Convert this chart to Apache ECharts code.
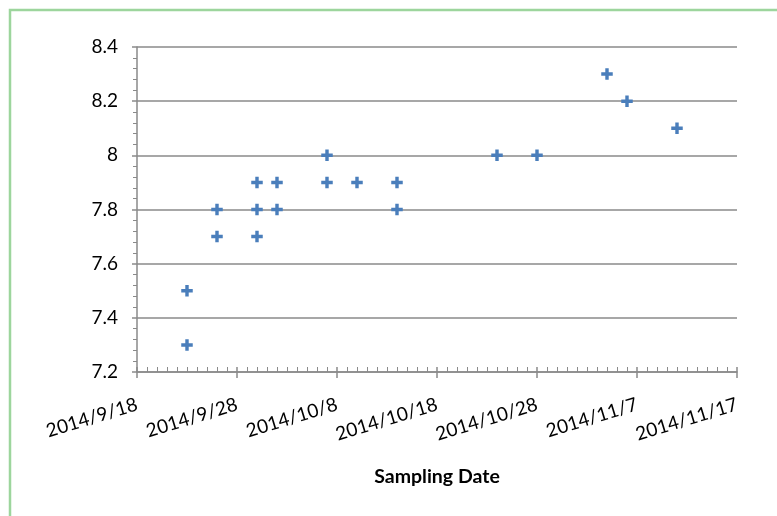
<!DOCTYPE html>
<html>
<head>
<meta charset="utf-8">
<style>
  html, body { margin: 0; padding: 0; background: #ffffff; }
  #chart { width: 777px; height: 516px; }
</style>
<script src="https://cdn.jsdelivr.net/npm/echarts@6/dist/echarts.min.js"></script>
</head>
<body>
<div id="chart"></div>
<script>
// Sampling dates and measured values (one entry per sample)
const sampleDates = [
  '2014/9/23', '2014/9/23',
  '2014/9/26', '2014/9/26',
  '2014/9/30', '2014/9/30', '2014/9/30',
  '2014/10/2', '2014/10/2',
  '2014/10/7', '2014/10/7',
  '2014/10/10',
  '2014/10/14', '2014/10/14',
  '2014/10/24',
  '2014/10/28',
  '2014/11/4',
  '2014/11/6',
  '2014/11/11'
];
const sampleValues = [
  7.5, 7.3,
  7.8, 7.7,
  7.9, 7.8, 7.7,
  7.9, 7.8,
  8.0, 7.9,
  7.9,
  7.9, 7.8,
  8.0,
  8.0,
  8.3,
  8.2,
  8.1
];

// Axis range
const startDate = '2014/9/18';
const endDate = '2014/11/17';
const dayStep = 10;
const yMin = 7.2;
const yMax = 8.4;
const yStep = 0.2;
const xTitle = 'Sampling Date';

const DAY = 86400000;
function toUTC(s) {
  const p = s.split('/').map(Number);
  return Date.UTC(p[0], p[1] - 1, p[2]);
}
const base = toUTC(startDate);
const toDay = s => Math.round((toUTC(s) - base) / DAY);
const fmtDay = d => {
  const t = new Date(base + d * DAY);
  return t.getUTCFullYear() + '/' + (t.getUTCMonth() + 1) + '/' + t.getUTCDate();
};

const points = sampleDates.map((d, i) => [toDay(d), sampleValues[i]]);
const xMax = toDay(endDate);

const axisGray = '#8a8a8a';
const font = 'Lato, "Liberation Sans", sans-serif';

const chart = echarts.init(document.getElementById('chart'), null, { renderer: 'canvas' });

chart.setOption({
  animation: false,
  backgroundColor: '#ffffff',
  grid: { left: 137, right: 40, top: 47, bottom: 144, containLabel: false },
  graphic: [{
    type: 'rect',
    shape: { x: 10, y: 10, width: 820, height: 560 },
    style: { fill: 'none', stroke: '#9dd59d', lineWidth: 2.5 },
    silent: true,
    z: 100
  }],
  xAxis: [{
    type: 'value',
    min: 0, max: xMax, interval: dayStep,
    position: 'bottom',
    name: xTitle,
    nameLocation: 'middle',
    nameGap: 95,
    nameTextStyle: { fontFamily: font, fontSize: 19.5, fontWeight: 'bold', color: '#000' },
    axisLine: { show: true, lineStyle: { color: axisGray, width: 1.5 } },
    axisTick: { show: true, length: 6, inside: false, lineStyle: { color: axisGray, width: 1.5 } },
    minorTick: { show: false },
    splitLine: { show: false },
    axisLabel: {
      rotate: 17, margin: 32, color: '#000',
      fontFamily: font, fontSize: 19,
      formatter: v => fmtDay(v)
    }
  }, {
    type: 'value',
    min: 0, max: xMax, interval: dayStep,
    position: 'bottom',
    axisLine: { show: false },
    axisTick: { show: true, length: 5, inside: true, lineStyle: { color: axisGray, width: 1.5 } },
    minorTick: { show: true, splitNumber: dayStep, length: 5, lineStyle: { color: axisGray, width: 1 } },
    splitLine: { show: false },
    axisLabel: { show: false }
  }],
  yAxis: [{
    type: 'value',
    min: yMin, max: yMax, interval: yStep,
    position: 'left',
    axisLine: { show: true, lineStyle: { color: axisGray, width: 1.5 } },
    axisTick: { show: true, length: 5, inside: false, lineStyle: { color: axisGray, width: 1.5 } },
    minorTick: { show: false },
    splitLine: { show: true, lineStyle: { color: axisGray, width: 1.5 } },
    axisLabel: { margin: 19, color: '#000', fontFamily: font, fontSize: 19 }
  }, {
    type: 'value',
    min: yMin, max: yMax, interval: yStep,
    position: 'left',
    axisLine: { show: false },
    axisTick: { show: false },
    minorTick: { show: true, splitNumber: 5, length: 4, lineStyle: { color: axisGray, width: 1 } },
    splitLine: { show: false },
    axisLabel: { show: false }
  }],
  series: [{
    type: 'scatter',
    xAxisIndex: 0,
    yAxisIndex: 0,
    data: points,
    symbol: 'path://M4,0H7.4V4H11.4V7.4H7.4V11.4H4V7.4H0V4H4Z',
    symbolSize: 11.5,
    itemStyle: { color: '#4a7ebb', opacity: 1 },
    z: 10
  }]
});
</script>
</body>
</html>
